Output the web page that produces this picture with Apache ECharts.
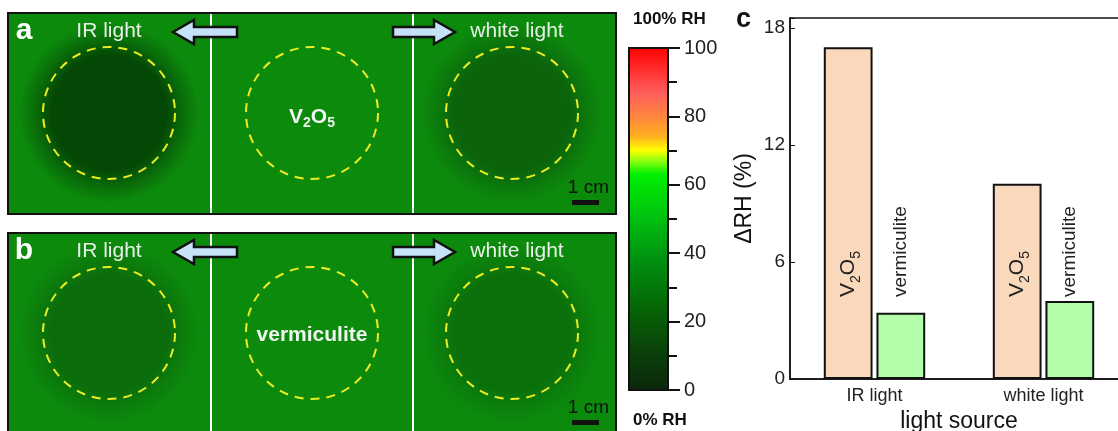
<!DOCTYPE html>
<html>
<head>
<meta charset="utf-8">
<script src="https://cdn.jsdelivr.net/npm/echarts@6/dist/echarts.min.js"></script>
<style>
  html, body { margin: 0; padding: 0; background: #fff; }
  #main { width: 1118px; height: 431px; }
</style>
</head>
<body>
<div id="main"></div>
<script>
// data
const categories = ['IR light', 'white light'];
const v2o5Values = [17.0, 10.0];
const vermiculiteValues = [3.4, 4.0];
const rhTicks = [0, 20, 40, 60, 80, 100];
const deltaTicks = [0, 6, 12, 18];

const FONT = 'Arial, "Liberation Sans", sans-serif';
const BG = '#0c8a0c';

// 一個面板(a 或 b)的圖形
function panel(top, h, letter, centerText, darkL, darkR) {
  const els = [];
  els.push({ type: 'rect', shape: { x: 8, y: top, width: 608, height: h }, style: { fill: BG } });
  // 變暗的圓形區域
  [[109, darkL], [512, darkR]].forEach(([cx, col]) => {
    els.push({
      type: 'circle', shape: { cx: cx, cy: top + 100, r: 90 },
      style: {
        fill: new echarts.graphic.RadialGradient(0.5, 0.5, 0.5, [
          { offset: 0, color: col }, { offset: 0.64, color: col },
          { offset: 0.8, color: echarts.color.modifyAlpha(col, 0.5) },
          { offset: 1, color: echarts.color.modifyAlpha(col, 0) }
        ])
      }
    });
  });
  // 白色分隔線
  [211, 413].forEach(x => els.push({ type: 'line', shape: { x1: x, y1: top, x2: x, y2: top + h }, style: { stroke: '#fff', lineWidth: 2 } }));
  // 虛線圓
  [109, 312, 512].forEach(cx => els.push({ type: 'circle', shape: { cx: cx, cy: top + 100, r: 66 }, style: { fill: null, stroke: '#ecec22', lineWidth: 2, lineDash: [9, 7] } }));
  els.push({ type: 'rect', shape: { x: 8, y: top, width: 608, height: h }, style: { fill: null, stroke: '#111', lineWidth: 2 } });
  const txt = (t, x, y, size, weight, fill, align) => ({
    type: 'text', style: { text: t, x: x, y: y, font: weight + ' ' + size + 'px ' + FONT, fill: fill, textAlign: align || 'center', textVerticalAlign: 'middle', align: align || 'center', verticalAlign: 'middle' }
  });
  els.push(txt(letter, 24, top + 18, 30, 'bold', '#fff'));
  els.push(txt('IR light', 109, top + 18, 21, 'normal', '#e8f0e8'));
  els.push(txt('white light', 517, top + 18, 21, 'normal', '#e8f0e8'));
  els.push(centerText);
  // 箭頭
  const y = top + 19;
  els.push({ type: 'polygon', shape: { points: [[173, y], [194, y - 12], [194, y - 5], [237, y - 5], [237, y + 5], [194, y + 5], [194, y + 12]] }, style: { fill: '#c6e2f6', stroke: '#111', lineWidth: 2.5 } });
  els.push({ type: 'polygon', shape: { points: [[455, y], [434, y - 12], [434, y - 5], [393, y - 5], [393, y + 5], [434, y + 5], [434, y + 12]] }, style: { fill: '#c6e2f6', stroke: '#111', lineWidth: 2.5 } });
  // 比例尺
  els.push(txt('1 cm', 609, top + 175, 19, 'normal', '#111', 'right'));
  els.push({ type: 'rect', shape: { x: 572, y: top + 187, width: 27, height: 5 }, style: { fill: '#111' } });
  return els;
}

const centerA = {
  type: 'text',
  style: {
    text: '{m|V}{s|2}{m|O}{s|5}', x: 312, y: 117, align: 'center', verticalAlign: 'middle', textAlign: 'center', textVerticalAlign: 'middle',
    fill: '#f0f6f0',
    rich: { m: { font: 'bold 21px ' + FONT, fill: '#f0f6f0', verticalAlign: 'bottom' }, s: { font: 'bold 14px ' + FONT, fill: '#f0f6f0', verticalAlign: 'bottom', padding: [0, 0, -3, 0] } }
  }
};
const centerB = {
  type: 'text',
  style: { text: 'vermiculite', x: 312, y: 335, font: 'bold 21px ' + FONT, fill: '#f0f6f0', align: 'center', verticalAlign: 'middle', textAlign: 'center', textVerticalAlign: 'middle' }
};

const graphics = []
  .concat(panel(13, 201, 'a', centerA, '#054805', '#0b630b'))
  .concat(panel(233, 210, 'b', centerB, '#0b6c0b', '#0b700b'));

// 色條
graphics.push({
  type: 'rect', shape: { x: 629, y: 48, width: 39, height: 342 },
  style: {
    stroke: '#111', lineWidth: 2,
    fill: new echarts.graphic.LinearGradient(0, 0, 0, 1, [
      { offset: 0, color: '#ff0000' }, { offset: 0.07, color: '#ff3030' },
      { offset: 0.13, color: '#ff5c5c' }, { offset: 0.2, color: '#ff8440' },
      { offset: 0.26, color: '#ffb020' }, { offset: 0.3, color: '#ffff00' },
      { offset: 0.33, color: '#90ff10' }, { offset: 0.37, color: '#00f000' },
      { offset: 0.5, color: '#00c010' }, { offset: 0.62, color: '#009010' },
      { offset: 0.76, color: '#066606' }, { offset: 0.88, color: '#0a420a' },
      { offset: 1, color: '#0b260b' }
    ])
  }
});
const t2 = (t, x, y, size, weight) => ({ type: 'text', style: { text: t, x: x, y: y, font: weight + ' ' + size + 'px ' + FONT, fill: '#111', align: 'left', verticalAlign: 'middle', textAlign: 'left', textVerticalAlign: 'middle' } });
graphics.push(t2('100% RH', 633, 19, 17, 'bold'));
graphics.push(t2('0% RH', 633, 420, 17, 'bold'));
graphics.push(t2('c', 736, 20, 27, 'bold'));

const myChart = echarts.init(document.getElementById('main'), null, { renderer: 'canvas' });
myChart.setOption({
  animation: false,
  textStyle: { fontFamily: FONT },
  graphic: { elements: graphics },
  grid: [
    { left: 629, top: 48, width: 39, height: 342, show: false, outerBoundsMode: 'none' },
    { left: 790, top: 18, width: 338, height: 361, show: true, borderColor: '#111', borderWidth: 1.5, backgroundColor: 'transparent', outerBoundsMode: 'none' }
  ],
  xAxis: [
    { gridIndex: 0, type: 'value', min: 0, max: 1, show: false },
    {
      gridIndex: 1, type: 'category', data: categories,
      axisLine: { lineStyle: { color: '#111', width: 1.5 } },
      axisTick: { show: false },
      axisLabel: { fontSize: 18, color: '#222', margin: 8 },
      name: 'light source', nameLocation: 'middle', nameGap: 28,
      nameTextStyle: { fontSize: 23, color: '#111' }
    }
  ],
  yAxis: [
    {
      gridIndex: 0, type: 'value', position: 'right', min: 0, max: 100, interval: 20,
      axisLine: { show: true, onZero: false, lineStyle: { color: '#111', width: 2 } },
      axisTick: { show: true, length: 12, lineStyle: { color: '#111', width: 2 } },
      minorTick: { show: true, splitNumber: 2, length: 9, lineStyle: { color: '#111', width: 2 } },
      axisLabel: { fontSize: 20, color: '#222', margin: 16, formatter: v => rhTicks.includes(v) ? v : '' },
      splitLine: { show: false }
    },
    {
      gridIndex: 1, type: 'value', min: 0, max: 18.5, interval: 6,
      axisLine: { show: true, lineStyle: { color: '#111', width: 1.5 } },
      axisTick: { show: true, inside: true, length: 5, lineStyle: { color: '#111' } },
      axisLabel: { fontSize: 19, color: '#222', margin: 5, formatter: v => deltaTicks.includes(v) ? v : '' },
      splitLine: { show: false },
      name: 'ΔRH (%)', nameLocation: 'middle', nameGap: 34, nameRotate: 90,
      nameTextStyle: { fontSize: 23, color: '#111' }
    }
  ],
  series: [
    {
      name: 'V2O5', type: 'bar', xAxisIndex: 1, yAxisIndex: 1, data: v2o5Values,
      barGap: '8%', barCategoryGap: '40%',
      itemStyle: { color: '#f9d8bc', borderColor: '#111', borderWidth: 2 },
      label: {
        show: true, position: 'insideBottom', distance: 82, rotate: 90, align: 'left', verticalAlign: 'middle',
        formatter: 'V{s|2}O{s|5}', fontSize: 21, color: '#222',
        rich: { s: { fontSize: 14, color: '#222', verticalAlign: 'bottom', padding: [0, 0, -4, 0] } }
      }
    },
    {
      name: 'vermiculite', type: 'bar', xAxisIndex: 1, yAxisIndex: 1, data: vermiculiteValues,
      itemStyle: { color: '#b2fcaa', borderColor: '#111', borderWidth: 2 },
      label: {
        show: true, position: 'insideBottom', distance: 82, rotate: 90, align: 'left', verticalAlign: 'middle',
        formatter: 'vermiculite', fontSize: 19, color: '#222'
      }
    }
  ]
});
</script>
</body>
</html>
